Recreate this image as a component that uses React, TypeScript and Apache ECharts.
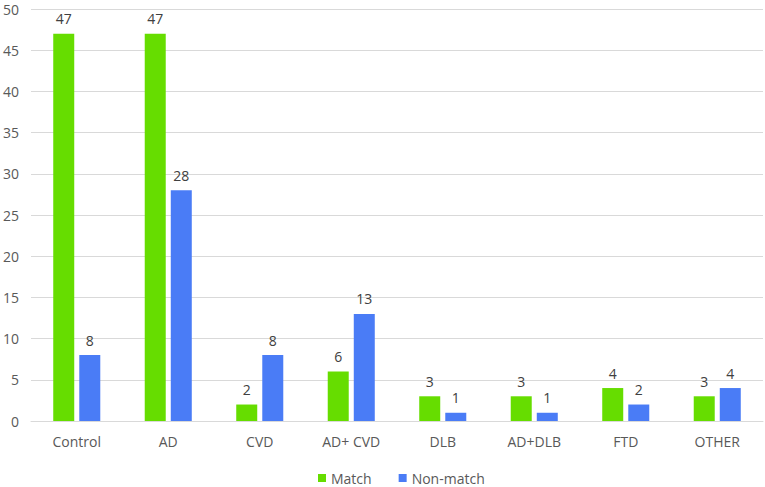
import React, { useEffect, useRef } from "react";
import * as echarts from "echarts";

const categories = ["Control", "AD", "CVD", "AD+ CVD", "DLB", "AD+DLB", "FTD", "OTHER"];
const matchValues = [47, 47, 2, 6, 3, 3, 4, 3];
const nonMatchValues = [8, 28, 8, 13, 1, 1, 2, 4];
const seriesNames = ["Match", "Non-match"];

const FONT = "'Open Sans', 'Noto Sans', sans-serif";
const TEXT = "#595959";

export default function App() {
  const ref = useRef<HTMLDivElement>(null);
  useEffect(() => {
    if (!ref.current) return;
    const chart = echarts.init(ref.current, null, { renderer: "svg" });
    const labelStyle = {
      show: true,
      position: "top" as const,
      distance: 8,
      color: "#404040",
      fontSize: 14,
      fontFamily: FONT,
    };
    chart.setOption({
      animation: false,
      textStyle: { fontFamily: FONT },
      grid: { left: 31, right: 2, top: 9, bottom: 66, containLabel: false },
      legend: {
        left: 318,
        top: 470,
        padding: 0,
        itemWidth: 8,
        itemHeight: 8,
        itemGap: 27,
        icon: "rect",
        textStyle: { color: TEXT, fontSize: 14, lineHeight: 16, fontFamily: FONT },
        data: seriesNames,
      },
      xAxis: {
        type: "category",
        data: categories,
        axisLine: { show: true, lineStyle: { color: "#D9D9D9", width: 1 } },
        axisTick: { show: false },
        axisLabel: { color: TEXT, fontSize: 14, margin: 13, fontFamily: FONT },
      },
      yAxis: {
        type: "value",
        min: 0,
        max: 50,
        interval: 5,
        axisLine: { show: false },
        axisTick: { show: false },
        axisLabel: { color: TEXT, fontSize: 14, margin: 12, fontFamily: FONT },
        splitLine: { lineStyle: { color: "#D9D9D9", width: 1 } },
      },
      series: [
        {
          name: seriesNames[0],
          type: "bar",
          data: matchValues,
          barWidth: 21,
          barGap: "24%",
          itemStyle: { color: "#66DD00" },
          label: labelStyle,
        },
        {
          name: seriesNames[1],
          type: "bar",
          data: nonMatchValues,
          barWidth: 21,
          itemStyle: { color: "#4A7CF6" },
          label: labelStyle,
        },
      ],
    });
    return () => chart.dispose();
  }, []);
  return <div ref={ref} style={{ width: 765, height: 487, position: "absolute", left: 0, top: 0 }} />;
}
